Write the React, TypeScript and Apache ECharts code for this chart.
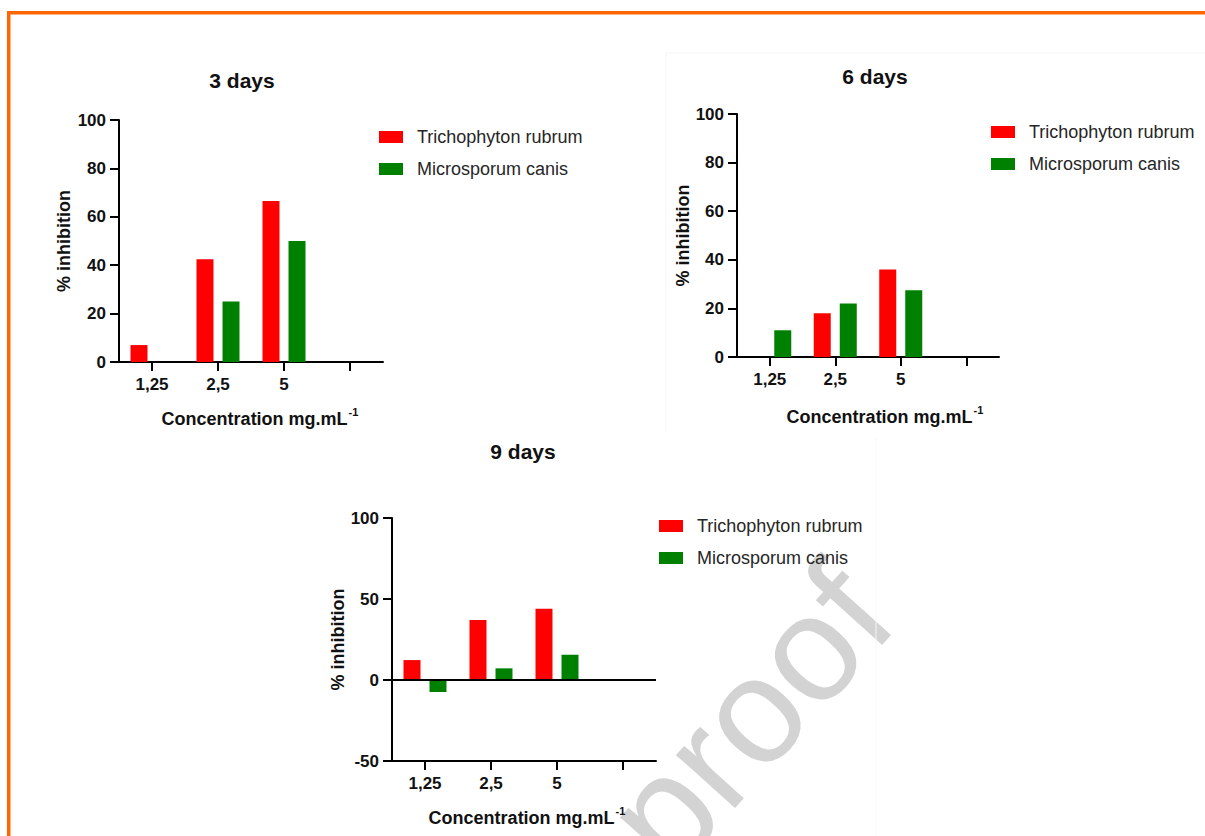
import React, { useEffect, useRef } from "react";
import * as echarts from "echarts";

const categories = ["1,25", "2,5", "5", ""];
const seriesNames = ["Trichophyton rubrum", "Microsporum canis"];
const titles = ["3 days", "6 days", "9 days"];

const rubrum3 = [7, 42.5, 66.5];
const canis3 = [0, 25, 50];
const rubrum6 = [0, 18, 36];
const canis6 = [11, 22, 27.5];
const rubrum9 = [12.3, 37, 44];
const canis9 = [-7.4, 7.2, 15.6];

const yTicks1 = { min: 0, max: 100, interval: 20 };
const yTicks2 = { min: 0, max: 100, interval: 20 };
const yTicks3 = { min: -50, max: 100, interval: 50 };

const FONT = "'Liberation Sans', Arial, Helvetica, sans-serif";
const RED = "#ff0000";
const GREEN = "#008000";

export default function App() {
  const ref = useRef<HTMLDivElement>(null);

  useEffect(() => {
    if (!ref.current) return;
    const chart = echarts.init(ref.current, undefined, { renderer: "svg" });

    const grids = [
      { left: 119, top: 120, width: 264, height: 242 },
      { left: 737, top: 114, width: 262, height: 243 },
      { left: 392, top: 518, width: 264, height: 243 },
    ];
    const yRanges = [yTicks1, yTicks2, yTicks3];
    const yNameGaps = [46, 44, 45];
    const xNameGaps = [44, 47, 44];
    const xNamePad = [18, 34, 6];

    const xAxes = grids.map((_, i) => ({
      type: "category",
      gridIndex: i,
      data: categories,
      axisLine: { show: true, onZero: false, lineStyle: { color: "#000", width: 2 } },
      axisTick: {
        show: true,
        alignWithLabel: true,
        inside: false,
        length: 9,
        lineStyle: { color: "#000", width: 2 },
      },
      axisLabel: {
        margin: 14,
        color: "#111",
        fontSize: 17,
        fontWeight: "bold",
        fontFamily: FONT,
      },
      name: "{a|Concentration mg.mL}{b|-1}",
      nameLocation: "middle",
      nameGap: xNameGaps[i],
      nameTextStyle: {
        color: "#111",
        fontFamily: FONT,
        padding: [0, 0, 0, xNamePad[i]],
        rich: {
          a: { fontSize: 18, fontWeight: "bold", fontFamily: FONT, color: "#111", verticalAlign: "bottom" },
          b: {
            fontSize: 11,
            fontWeight: "bold",
            fontFamily: FONT,
            color: "#111",
            verticalAlign: "bottom",
            padding: [0, 0, 11, 1],
          },
        },
      },
    }));

    const yAxes = grids.map((_, i) => ({
      type: "value",
      gridIndex: i,
      min: yRanges[i].min,
      max: yRanges[i].max,
      interval: yRanges[i].interval,
      splitLine: { show: false },
      axisLine: { show: true, onZero: false, lineStyle: { color: "#000", width: 2 } },
      axisTick: { show: true, inside: false, length: 9, lineStyle: { color: "#000", width: 2 } },
      axisLabel: {
        margin: 13,
        color: "#111",
        fontSize: 17,
        fontWeight: "bold",
        fontFamily: FONT,
      },
      name: "% inhibition",
      nameLocation: "middle",
      nameGap: yNameGaps[i],
      nameTextStyle: { color: "#111", fontSize: 18, fontWeight: "bold", fontFamily: FONT },
    }));

    const data = [
      [rubrum3, canis3],
      [rubrum6, canis6],
      [rubrum9, canis9],
    ];

    const series: any[] = [];
    data.forEach((pair, i) => {
      pair.forEach((vals, j) => {
        const s: any = {
          type: "bar",
          name: seriesNames[j],
          xAxisIndex: i,
          yAxisIndex: i,
          data: vals,
          barWidth: 17,
          barGap: "53%",
          itemStyle: { color: j === 0 ? RED : GREEN },
        };
        if (i === 2 && j === 0) {
          s.markLine = {
            silent: true,
            symbol: "none",
            label: { show: false },
            lineStyle: { color: "#000", width: 2, type: "solid" },
            data: [{ yAxis: 0 }],
          };
        }
        series.push(s);
      });
    });

    const titlePos = [
      { left: 242, top: 70 },
      { left: 875, top: 66 },
      { left: 523, top: 441 },
    ];
    const legendPos = [
      { left: 379, top: 128 },
      { left: 991, top: 123 },
      { left: 659, top: 517 },
    ];

    chart.setOption({
      animation: false,
      backgroundColor: "#ffffff",
      title: titles.map((t, i) => ({
        text: t,
        left: titlePos[i].left,
        top: titlePos[i].top,
        textAlign: "center",
        padding: 0,
        textStyle: { fontSize: 21, fontWeight: "bold", fontFamily: FONT, color: "#111" },
      })),
      legend: legendPos.map((p) => ({
        orient: "vertical",
        left: p.left,
        top: p.top,
        padding: 0,
        itemWidth: 24,
        itemHeight: 12,
        itemGap: 14,
        icon: "rect",
        data: seriesNames,
        selectedMode: false,
        textStyle: { fontSize: 18, fontFamily: FONT, color: "#262626", padding: [0, 0, 0, 9] },
      })),
      grid: grids,
      xAxis: xAxes,
      yAxis: yAxes,
      series,
      graphic: [
        {
          type: "text",
          z: -10,
          silent: true,
          x: 748,
          y: 716,
          rotation: (48 * Math.PI) / 180,
          style: {
            text: "proof",
            fontSize: 150,
            fontFamily: FONT,
            fill: "#d3d3d3",
            align: "center",
            verticalAlign: "middle",
          },
        },
        { type: "line", silent: true, shape: { x1: 666, y1: 53, x2: 1205, y2: 53 }, style: { stroke: "#f5f5f5", lineWidth: 1 } },
        { type: "line", silent: true, shape: { x1: 666, y1: 53, x2: 666, y2: 432 }, style: { stroke: "#f5f5f5", lineWidth: 1 } },
        { type: "line", silent: true, shape: { x1: 876, y1: 438, x2: 876, y2: 836 }, style: { stroke: "#f5f5f5", lineWidth: 1 } },
        { type: "rect", silent: true, shape: { x: 7, y: 11, width: 1198, height: 3 }, style: { fill: "#ff6600" } },
        { type: "rect", silent: true, shape: { x: 10, y: 14, width: 1195, height: 1 }, style: { fill: "#ffb380" } },
        { type: "rect", silent: true, shape: { x: 7, y: 11, width: 3, height: 825 }, style: { fill: "#ff6600" } },
        { type: "rect", silent: true, shape: { x: 10, y: 14, width: 1, height: 822 }, style: { fill: "#ffb380" } },
      ],
    });

    return () => {
      chart.dispose();
    };
  }, []);

  return (
    <div
      ref={ref}
      style={{ position: "absolute", left: 0, top: 0, width: 1205, height: 836 }}
    />
  );
}
